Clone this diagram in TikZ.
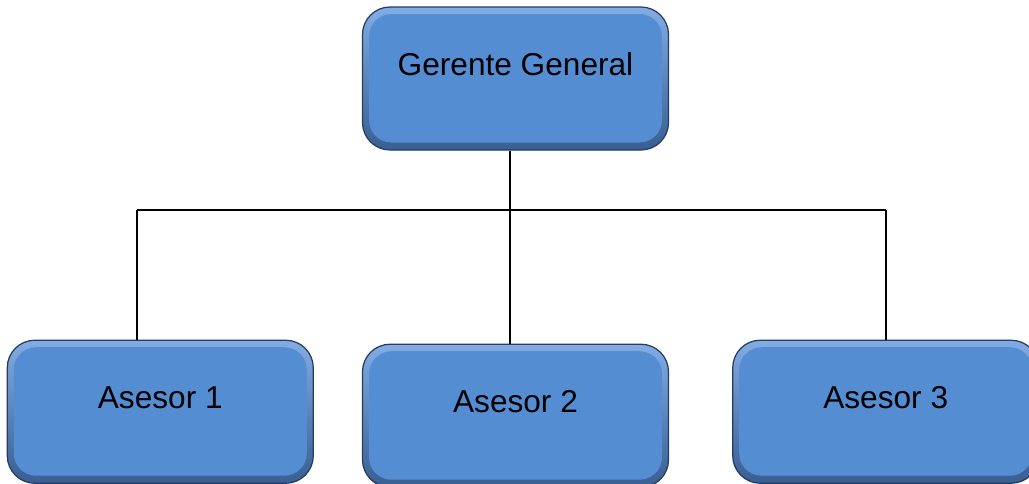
\documentclass[tikz,border=0pt]{standalone}
\usepackage{fontspec}
\setmainfont{Liberation Sans}
\usetikzlibrary{positioning, calc}
\definecolor{boxface}{RGB}{85,141,211}
\definecolor{boxhigh}{RGB}{130,172,228}
\definecolor{boxshade}{RGB}{56,94,146}
\definecolor{boxedge}{RGB}{36,60,94}

\begin{document}
\begin{tikzpicture}[node distance=1cm]
  \tikzset{
    box/.style={rectangle, rounded corners=0.55cm, minimum width=6.12cm, minimum height=2.86cm,
      draw=boxedge, line width=0.7pt, top color=boxhigh, bottom color=boxshade,
      font=\fontsize{18}{21}\selectfont, text height=0.45cm, text depth=0.58cm,
      path picture={\fill[boxface, rounded corners=0.45cm]
        ([xshift=0.13cm, yshift=-0.14cm]path picture bounding box.north west) rectangle
        ([xshift=-0.13cm, yshift=0.15cm]path picture bounding box.south east);}},
    link/.style={draw=black, line width=0.85pt}
  }
  \useasboundingbox (0,0) rectangle (20.58,-9.66);

  % lineas de mando
  \coordinate (bus) at (10.2,-4.2);
  \coordinate (bus1) at (2.74,-4.2);
  \coordinate (bus3) at (17.72,-4.2);
  \draw [link] (bus1) -- (bus3);

  \node [box] (gerente) at (10.31,-1.57) {Gerente General};
  \node [box, below=3.86cm of gerente] (asesor2) {Asesor 2};
  \node [box, left=0.96cm of asesor2, yshift=0.08cm] (asesor1) {Asesor 1};
  \node [box, right=1.26cm of asesor2, yshift=0.08cm] (asesor3) {Asesor 3};

  \draw [link] (gerente.south -| bus) -- (bus);
  \draw [link] (bus1) -- (bus1 |- asesor1.north);
  \draw [link] (bus) -- (bus |- asesor2.north);
  \draw [link] (bus3) -- (bus3 |- asesor3.north);
\end{tikzpicture}
\end{document}
